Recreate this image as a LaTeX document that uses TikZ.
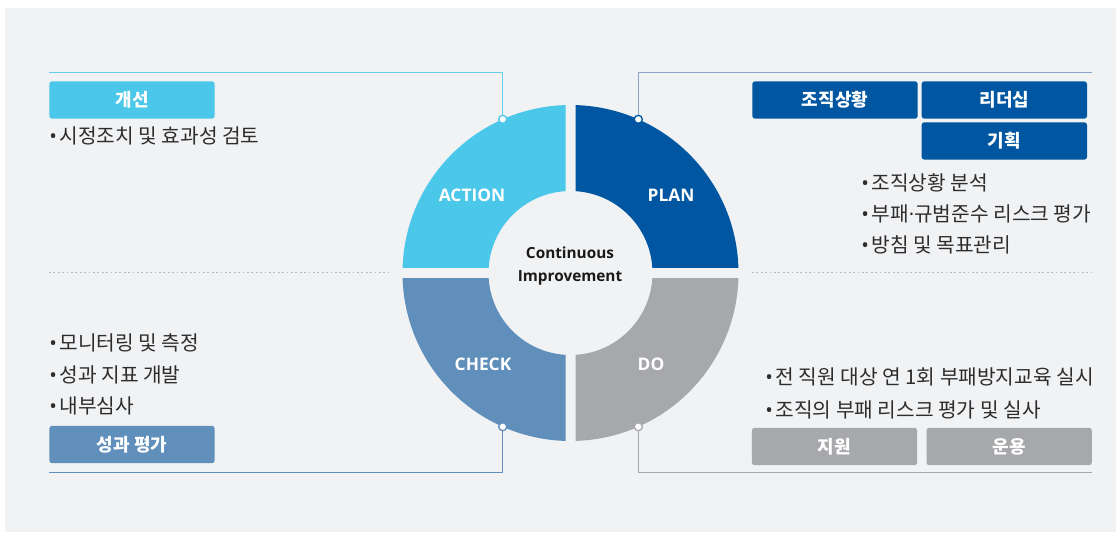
\documentclass[tikz,border=0pt]{standalone}
\usepackage{fontspec}
\setmainfont{Open Sans}
\newfontfamily\kofont{Noto Sans CJK KR}
\newfontfamily\enfont{Open Sans}
\usetikzlibrary{positioning}
\definecolor{bggray}{RGB}{241,242,244}
\definecolor{actblue}{RGB}{75,199,233}
\definecolor{planblue}{RGB}{0,86,160}
\definecolor{checkblue}{RGB}{95,143,186}
\definecolor{dogray}{RGB}{167,168,171}
\definecolor{planline}{RGB}{138,163,207}
\definecolor{textgray}{RGB}{45,45,45}
\newcommand{\dotmark}{{\enfont •}\hspace{2pt}}
\tikzset{
  tag/.style={
    rectangle,
    rounded corners=2pt,
    text=white,
    align=center,
    minimum width=124pt,
    minimum height=28pt,
    inner sep=0pt,
    outer sep=0pt,
    font=\kofont\bfseries\fontsize{13.5}{16}\selectfont
  },
  phase/.style={text=white, font=\bfseries\fontsize{13}{15}\selectfont},
  items/.style={
    anchor=west,
    inner sep=0pt,
    text=textgray,
    font=\kofont\fontsize{15.2}{18}\selectfont
  },
  knot/.style={circle, draw, fill=white, line width=1pt, inner sep=0pt, minimum size=6pt},
  leader/.style={line width=0.8pt},
  sep/.style={dotted, draw=gray!55, line width=1.3pt}
}
% one quarter of the ring, #2 = start angle
\newcommand{\petal}[2]{%
  \fill[#1] (#2+1.71:168) arc[start angle=#2+1.71, end angle=#2+88.29, radius=168]
    -- (#2+86.5:82) arc[start angle=#2+86.5, end angle=#2+3.5, radius=82] -- cycle;}

\begin{document}
\begin{tikzpicture}[x=0.75pt, y=0.75pt]
  \useasboundingbox (0,0) rectangle (1116,-532);
  \fill[bggray] (5,-8) rectangle (1116,-532);

  % ring
  \begin{scope}[shift={(570.5,-273)}]
    \petal{planblue}{0}
    \petal{actblue}{90}
    \petal{checkblue}{180}
    \petal{dogray}{270}
    \node[knot, draw=actblue] (actknot) at (113.8:168) {};
    \node[knot, draw=planblue] (planknot) at (66.2:168) {};
    \node[knot, draw=checkblue] (checkknot) at (246.2:168) {};
    \node[knot, draw=dogray] (doknot) at (293.8:168) {};
  \end{scope}

  \node[phase] (action) at (472,-195) {ACTION};
  \node[phase] (plan) at (671,-195) {PLAN};
  \node[phase] (check) at (483,-364) {CHECK};
  \node[phase] (do) at (651,-364) {DO};
  \node[align=center, text=black!90, font=\bfseries\fontsize{11.5}{17.5}\selectfont] (core) at (570,-266) {Continuous\\Improvement};

  % leader lines
  \coordinate (actend) at (49,-72.5);
  \coordinate (planend) at (1092,-72.5);
  \coordinate (checkend) at (49,-472.5);
  \coordinate (doend) at (1092,-472.5);
  \draw[leader, actblue!85] (actknot.north) |- (actend);
  \draw[leader, planline] (planknot.north) |- (planend);
  \draw[leader, checkblue] (checkknot.south) |- (checkend);
  \draw[leader, dogray] (doknot.south) |- (doend);

  \draw[sep] (49,-272.5) -- (389,-272.5);
  \draw[sep] (752,-272.5) -- (1092,-272.5);

  % ACTION
  \node[tag, fill=actblue] (improve) at (132,-100) {개선};
  \node[items] (actline) at (49,-136) {\dotmark 시정조치 및 효과성 검토};

  % PLAN
  \node[tag, fill=planblue] (context) at (835,-100) {조직상황};
  \node[tag, fill=planblue, right=3pt of context] (leadership) {리더십};
  \node[tag, fill=planblue, below=2.7pt of leadership] (planning) {기획};
  \node[items] (planone) at (861,-183) {\dotmark 조직상황 분석};
  \node[items] (plantwo) at (861,-214) {\dotmark 부패{\enfont ·}규범준수 리스크 평가};
  \node[items] (planthree) at (861,-245) {\dotmark 방침 및 목표관리};

  % CHECK
  \node[items] (checkone) at (49,-343) {\dotmark 모니터링 및 측정};
  \node[items] (checktwo) at (49,-375) {\dotmark 성과 지표 개발};
  \node[items] (checkthree) at (49,-406) {\dotmark 내부심사};
  \node[tag, fill=checkblue] (review) at (132,-444.5) {성과 평가};

  % DO
  \node[items] (doone) at (765,-377) {\dotmark 전 직원 대상 연 1회 부패방지교육 실시};
  \node[items] (dotwo) at (765,-410) {\dotmark 조직의 부패 리스크 평가 및 실사};
  \node[tag, fill=dogray] (support) at (834.5,-446.5) {지원};
  \node[tag, fill=dogray, right=7pt of support] (operation) {운용};
\end{tikzpicture}
\end{document}
